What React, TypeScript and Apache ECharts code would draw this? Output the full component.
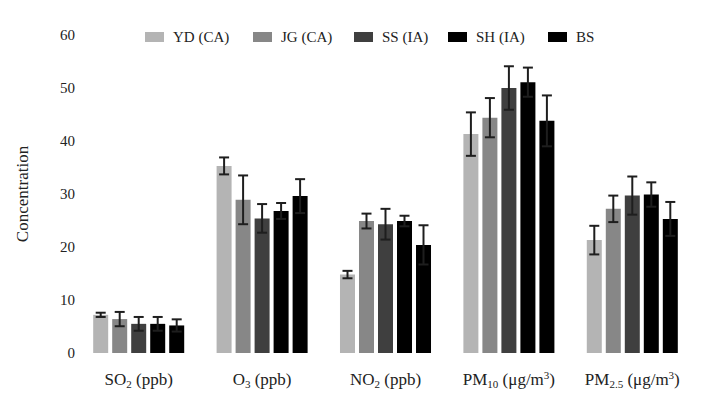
import React, { useEffect, useRef } from "react";
import * as echarts from "echarts";

const categories = ["SO2 (ppb)", "O3 (ppb)", "NO2 (ppb)", "PM10 (μg/m3)", "PM2.5 (μg/m3)"];
const categoryRich = [
  "{n|SO}{s|2}{n| (ppb)}",
  "{n|O}{s|3}{n| (ppb)}",
  "{n|NO}{s|2}{n| (ppb)}",
  "{n|PM}{s|10}{n| (μg/m}{p|3}{n|)}",
  "{n|PM}{s|2.5}{n| (μg/m}{p|3}{n|)}",
];
const seriesNames = ["YD (CA)", "JG (CA)", "SS (IA)", "SH (IA)", "BS"];
const seriesColors = ["#b4b4b4", "#878787", "#3f3f3f", "#000000", "#000000"];

const ydValues = [7.2, 35.3, 14.8, 41.3, 21.3];
const ydErrors = [0.4, 1.6, 0.7, 4.1, 2.7];
const jgValues = [6.4, 28.9, 24.9, 44.4, 27.2];
const jgErrors = [1.35, 4.6, 1.4, 3.7, 2.5];
const ssValues = [5.5, 25.4, 24.3, 50.0, 29.7];
const ssErrors = [1.3, 2.7, 2.9, 4.1, 3.6];
const shValues = [5.5, 26.8, 24.9, 51.1, 29.9];
const shErrors = [1.3, 1.5, 1.0, 2.75, 2.3];
const bsValues = [5.2, 29.6, 20.4, 43.8, 25.3];
const bsErrors = [1.15, 3.2, 3.7, 4.8, 3.2];

const allValues = [ydValues, jgValues, ssValues, shValues, bsValues];
const allErrors = [ydErrors, jgErrors, ssErrors, shErrors, bsErrors];

const yTicks = { min: 0, max: 60, interval: 10 };
const FONT = "Liberation Serif";
const BAR_W = 15;
const BAR_PITCH = 19;
const LEGEND_X = [145, 253, 354, 448, 548];
const LEGEND_Y = 37;

export default function App() {
  const ref = useRef<HTMLDivElement>(null);
  useEffect(() => {
    if (!ref.current) return;
    const chart = echarts.init(ref.current, null, { renderer: "svg" });
    const barSeries = seriesNames.map((name, i) => ({
      name,
      type: "bar",
      data: allValues[i],
      barWidth: BAR_W,
      barGap: ((BAR_PITCH - BAR_W) / BAR_W * 100).toFixed(1) + "%",
      itemStyle: { color: seriesColors[i] },
    }));
    const errSeries = seriesNames.map((name, i) => ({
      type: "custom",
      name: name + " err",
      z: 10,
      silent: true,
      data: allValues[i].map((v, j) => [j, v, allErrors[i][j]]),
      renderItem: (params: any, api: any) => {
        const xi = api.value(0);
        const v = api.value(1);
        const e = api.value(2);
        const c = api.coord([xi, v]);
        const x = c[0] + (i - 2) * BAR_PITCH;
        const top = api.coord([xi, v + e])[1];
        const bot = api.coord([xi, v - e])[1];
        const style = { stroke: "#1e1e1e", lineWidth: 2 };
        return {
          type: "group",
          children: [
            { type: "line", shape: { x1: x, y1: top, x2: x, y2: bot }, style },
            { type: "line", shape: { x1: x - 5, y1: top, x2: x + 5, y2: top }, style },
            { type: "line", shape: { x1: x - 5, y1: bot, x2: x + 5, y2: bot }, style },
          ],
        };
      },
    }));
    const legendGraphics: any[] = [];
    seriesNames.forEach((name, i) => {
      legendGraphics.push({
        type: "rect",
        shape: { x: LEGEND_X[i], y: LEGEND_Y - 5, width: 19, height: 10 },
        style: { fill: seriesColors[i] },
      });
      legendGraphics.push({
        type: "text",
        x: LEGEND_X[i] + 28,
        y: LEGEND_Y,
        style: {
          text: name,
          fontFamily: FONT,
          fontSize: 15,
          fill: "#222",
          textVerticalAlign: "middle",
          verticalAlign: "middle",
        },
      });
    });
    chart.setOption({
      animation: false,
      backgroundColor: "#ffffff",
      textStyle: { fontFamily: FONT, color: "#222" },
      graphic: legendGraphics,
      grid: { left: 77, right: 8, top: 35, bottom: 45 },
      xAxis: {
        type: "category",
        data: categories,
        axisLine: { show: false },
        axisTick: { show: false },
        axisLabel: {
          interval: 0,
          margin: 16,
          formatter: (_v: string, idx: number) => categoryRich[idx],
          rich: {
            n: { fontFamily: FONT, fontSize: 17, color: "#222", lineHeight: 20, verticalAlign: "middle" },
            s: { fontFamily: FONT, fontSize: 11, color: "#222", lineHeight: 11, verticalAlign: "bottom" },
            p: { fontFamily: FONT, fontSize: 11, color: "#222", lineHeight: 11, verticalAlign: "top" },
          },
        },
      },
      yAxis: {
        type: "value",
        min: yTicks.min,
        max: yTicks.max,
        interval: yTicks.interval,
        name: "Concentration",
        nameLocation: "middle",
        nameGap: 46,
        nameRotate: 90,
        nameTextStyle: { fontFamily: FONT, fontSize: 17, color: "#222" },
        axisLine: { show: false },
        axisTick: { show: false },
        splitLine: { show: false },
        axisLabel: { margin: 2, fontFamily: FONT, fontSize: 15, color: "#222" },
      },
      series: [...barSeries, ...errSeries],
    });
    return () => chart.dispose();
  }, []);
  return <div ref={ref} style={{ position: "fixed", left: 0, top: 0, width: 702, height: 398 }} />;
}
